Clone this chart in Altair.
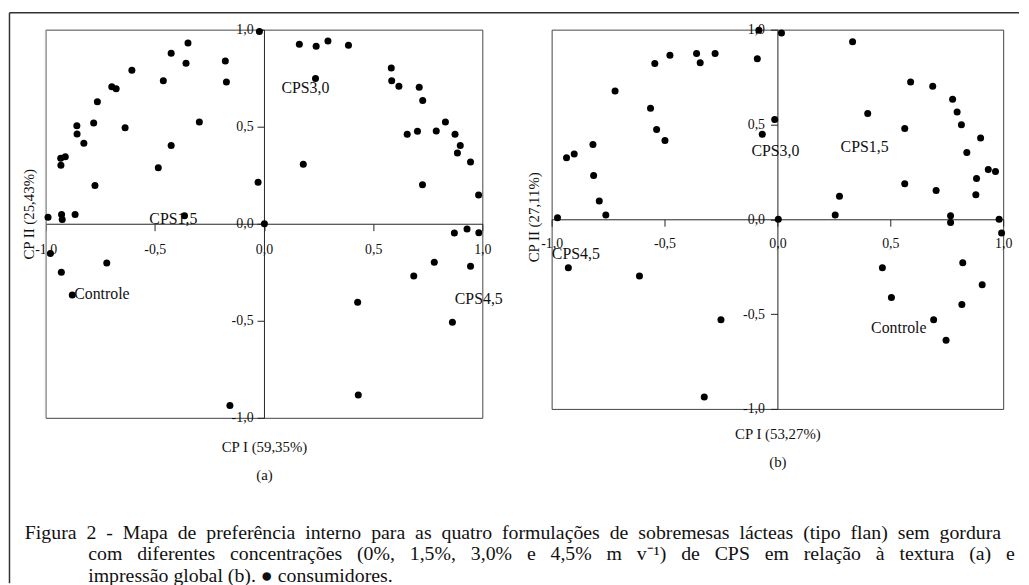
import altair as alt
import pandas as pd

FONT = "Liberation Serif"

# ---------------- Panel (a): textura ----------------
A_X = [-0.989, -0.927, -0.924, -0.865, -0.931, -0.910, -0.930, -0.857, -0.856, -0.825,
       -0.780, -0.763, -0.774, -0.697, -0.677, -0.605, -0.636, -0.484, -0.461, -0.425,
       -0.425, -0.348, -0.357, -0.296, -0.364, -0.177, -0.172, -0.027, -0.021, 0.002,
       0.162, 0.239, 0.293, 0.387, 0.236, 0.180, 0.583, 0.585, 0.618, 0.711,
       0.727, 0.656, 0.703, 0.789, 0.831, 0.875, 0.899, 0.886, 0.946, 0.726,
       0.983, 0.872, 0.930, 0.984, 0.780, 0.946, 0.686, 0.429, 0.863, 0.432,
       -0.978, -0.928, -0.720, -0.878, -0.156]
A_Y = [0.034, 0.048, 0.022, 0.048, 0.337, 0.345, 0.301, 0.505, 0.463, 0.415,
       0.519, 0.628, 0.197, 0.706, 0.696, 0.791, 0.494, 0.289, 0.737, 0.878,
       0.403, 0.931, 0.827, 0.524, 0.041, 0.839, 0.730, 0.214, 0.990, 0.000,
       0.925, 0.915, 0.941, 0.920, 0.748, 0.306, 0.803, 0.737, 0.708, 0.703,
       0.635, 0.461, 0.476, 0.478, 0.524, 0.461, 0.403, 0.364, 0.318, 0.201,
       0.148, -0.048, -0.027, -0.046, -0.199, -0.219, -0.269, -0.405, -0.507, -0.882,
       -0.153, -0.250, -0.202, -0.367, -0.936]
A_LABELS = ["CPS1,5", "CPS3,0", "Controle", "CPS4,5"]
A_LABEL_X = [-0.525, 0.080, -0.869, 0.874]
A_LABEL_Y = [0.026, 0.697, -0.361, -0.388]
A_XTITLE = ["CP I (59,35%)", "(a)"]
A_YTITLE = "CP II (25,43%)"

# ---------------- Panel (b): impressão global ----------------
B_X = [-0.974, -0.934, -0.900, -0.817, -0.814, -0.789, -0.760, -0.719, -0.562, -0.543,
       -0.535, -0.498, -0.476, -0.358, -0.342, -0.276, -0.089, -0.082, -0.012, -0.067,
       0.018, 0.004, 0.333, 0.400, 0.590, 0.688, 0.776, 0.796, 0.815, 0.564,
       0.900, 0.839, 0.934, 0.966, 0.882, 0.564, 0.703, 0.879, 0.275, 0.256,
       0.767, 0.767, 0.982, 0.993, 0.821, 0.465, 0.907, 0.505, 0.817, 0.692,
       0.747, -0.926, -0.611, -0.250, -0.324]
B_Y = [0.008, 0.325, 0.344, 0.394, 0.231, 0.097, 0.023, 0.676, 0.586, 0.822,
       0.474, 0.415, 0.865, 0.874, 0.825, 0.874, 0.847, 0.997, 0.526, 0.448,
       0.983, 0.000, 0.936, 0.558, 0.724, 0.701, 0.633, 0.566, 0.498, 0.479,
       0.429, 0.352, 0.262, 0.252, 0.215, 0.187, 0.152, 0.130, 0.121, 0.022,
       0.018, -0.017, 0.000, -0.072, -0.229, -0.255, -0.345, -0.412, -0.450, -0.530,
       -0.638, -0.255, -0.299, -0.530, -0.937]
B_LABELS = ["CPS3,0", "CPS1,5", "CPS4,5", "Controle"]
B_LABEL_X = [-0.115, 0.280, -0.999, 0.415]
B_LABEL_Y = [0.361, 0.382, -0.182, -0.573]
B_XTITLE = ["CP I (53,27%)", "(b)"]
B_YTITLE = "CP II (27,11%)"

TICKS = [-1.0, -0.5, 0.0, 0.5, 1.0]

CAPTION = [
    "Figura 2 - Mapa de preferência interno para as quatro formulações de sobremesas lácteas (tipo flan) sem gordura",
    "com diferentes concentrações (0%, 1,5%, 3,0% e 4,5% m v\u207b\u00b9) de CPS em relação à textura (a) e",
    "impressão global (b). \u25cf consumidores.",
]
# word gaps that imitate the justified lines of the original caption
CAPTION_GAPS = [" \u2005", " \u2002", " "]

LABEL_EXPR = "replace(replace(format(datum.value, '.1f'), '.', ','), '\u2212', '-')"
ONE = pd.DataFrame({"k": [0]})


def panel(xs, ys, labs, lx, ly, xtitle, ytitle, W, H, xlabpad, ylabpad,
          xtitle_y, xtitle_lh, ytitle_x, ytitle_y):
    pts = pd.DataFrame({"x": xs, "y": ys})
    lab = pd.DataFrame({"x": lx, "y": ly, "t": labs})
    xsc = alt.Scale(domain=[-1, 1], nice=False, zero=False)
    ysc = alt.Scale(domain=[-1, 1], nice=False, zero=False)
    xax = alt.Axis(values=TICKS, offset=-H / 2, labelExpr=LABEL_EXPR, grid=False,
                   tickSize=7, labelPadding=xlabpad, labelFlush=False, labelOverlap=False,
                   labelFont=FONT, labelFontSize=14, labelColor="#111",
                   domainColor="#222", tickColor="#222",
                   title=xtitle, titleFont=FONT, titleFontSize=15, titleFontWeight="normal",
                   titleColor="#111", titleY=xtitle_y, titleBaseline="top",
                   titleLineHeight=xtitle_lh)
    yax = alt.Axis(values=TICKS, offset=-W / 2, labelExpr=LABEL_EXPR, grid=False,
                   tickSize=7, labelPadding=ylabpad, labelFlush=False, labelOverlap=False,
                   labelFont=FONT, labelFontSize=14, labelColor="#111",
                   domainColor="#222", tickColor="#222",
                   title=ytitle, titleFont=FONT, titleFontSize=15, titleFontWeight="normal",
                   titleColor="#111", titleX=ytitle_x, titleY=ytitle_y, titleAngle=270,
                   titleBaseline="middle", titleAlign="center")
    points = alt.Chart(pts).mark_circle(size=50, color="#000", opacity=1).encode(
        x=alt.X("x:Q", scale=xsc, axis=xax),
        y=alt.Y("y:Q", scale=ysc, axis=yax),
    )
    texts = alt.Chart(lab).mark_text(align="left", baseline="middle", font=FONT,
                                     fontSize=16, color="#111").encode(
        x=alt.X("x:Q", scale=xsc),
        y=alt.Y("y:Q", scale=ysc),
        text="t:N",
    )
    return points, texts


W_A, H_A = 441, 392
W_B, H_B = 456, 383

pa, ta = panel(A_X, A_Y, A_LABELS, A_LABEL_X, A_LABEL_Y, A_XTITLE, A_YTITLE, W_A, H_A,
               xlabpad=12, ylabpad=4, xtitle_y=218, xtitle_lh=28,
               ytitle_x=-237.5, ytitle_y=186)
pb, tb = panel(B_X, B_Y, B_LABELS, B_LABEL_X, B_LABEL_Y, B_XTITLE, B_YTITLE, W_B, H_B,
               xlabpad=10, ylabpad=6, xtitle_y=209, xtitle_lh=29,
               ytitle_x=-246, ytitle_y=189)

# figure frame (top and left border) and light left edge of panel (a)
frame_top = alt.Chart(ONE).mark_rule(color="#333", strokeWidth=1.5).encode(
    x=alt.value(-36.5), x2=alt.value(983), y=alt.value(-17))
frame_left = alt.Chart(ONE).mark_rule(color="#333", strokeWidth=1.5).encode(
    x=alt.value(-36.5), y=alt.value(-17), y2=alt.value(559))
edge_a = alt.Chart(ONE).mark_rule(color="#bdbdbd", strokeWidth=1.5).encode(
    x=alt.value(0), y=alt.value(0), y2=alt.value(H_A))

cap_layers = []
for line, gap, cx, cy in zip(CAPTION, CAPTION_GAPS, [-21, 43, 43], [508, 530, 552]):
    cap_layers.append(
        alt.Chart(ONE).mark_text(align="left", baseline="middle", font=FONT,
                                 fontSize=20, color="#111").encode(
            x=alt.value(cx), y=alt.value(cy), text=alt.value(gap.join(line.split(" "))))
    )

chart_a = alt.layer(edge_a, pa, ta, frame_top, frame_left, *cap_layers).properties(
    width=W_A, height=H_A)
chart_b = alt.layer(pb, tb).properties(width=W_B, height=H_B)

chart = alt.hconcat(chart_a, chart_b, spacing=70, bounds="flush").properties(
    padding=0, background="white"
).configure_view(stroke="#444", strokeWidth=1)

chart.save("out.html", embed_options={"renderer": "svg", "actions": False})
